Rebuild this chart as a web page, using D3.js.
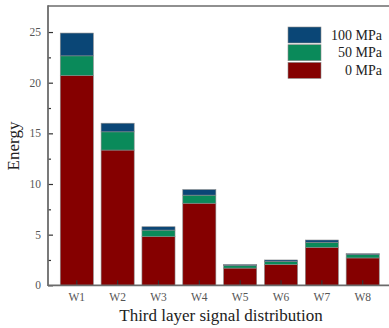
<!DOCTYPE html>
<html>
<head>
<meta charset="utf-8">
<script src="https://cdn.jsdelivr.net/npm/d3@7"></script>
<style>
  body { margin: 0; background: #fff; }
  svg { display: block; font-family: "Liberation Serif", "DejaVu Serif", serif; }
</style>
</head>
<body>
<div id="chart"></div>
<script>
const categories = ['W1', 'W2', 'W3', 'W4', 'W5', 'W6', 'W7', 'W8'];
const seriesNames = ['0 MPa', '50 MPa', '100 MPa'];
const mpa0 = [20.7, 13.35, 4.8, 8.1, 1.7, 2.05, 3.75, 2.7];
const mpa50 = [1.95, 1.8, 0.65, 0.8, 0.25, 0.3, 0.5, 0.32];
const mpa100 = [2.25, 0.85, 0.33, 0.55, 0.1, 0.15, 0.22, 0.1];
const yTicks = [0, 5, 10, 15, 20, 25];
const colors = ['#850000', '#0a8a5a', '#0a4676'];

const width = 389;
const height = 328;
const margin = { top: 6, left: 48, bottom: 42 };

const svg = d3.select('#chart')
  .append('svg')
  .attr('width', width)
  .attr('height', height);

const x = d3.scaleBand()
  .domain(categories)
  .range([margin.left, 391.5])
  .paddingInner(0.19)
  .paddingOuter(0.3);

const y = d3.scaleLinear()
  .domain([0, 27.57])
  .range([height - margin.bottom - 0.7, margin.top]);

const rows = categories.map((c, i) => ({ cat: c, '0 MPa': mpa0[i], '50 MPa': mpa50[i], '100 MPa': mpa100[i] }));
const stacked = d3.stack().keys(seriesNames)(rows);

svg.append('g')
  .selectAll('g')
  .data(stacked)
  .enter()
  .append('g')
  .attr('fill', (d, i) => colors[i])
  .selectAll('rect')
  .data(d => d)
  .enter()
  .append('rect')
  .attr('x', d => x(d.data.cat))
  .attr('y', d => y(d[1]))
  .attr('width', x.bandwidth())
  .attr('height', d => y(d[0]) - y(d[1]))
  .attr('stroke', '#8a8a8a')
  .attr('stroke-width', 0.6);

// frame
const x0 = margin.left;
const yBottom = y(0);
svg.append('line')
  .attr('x1', x0).attr('x2', width + 5)
  .attr('y1', margin.top).attr('y2', margin.top)
  .attr('stroke', '#6b6b6b').attr('stroke-width', 1.6);

// y axis
const yAxis = svg.append('g')
  .attr('transform', `translate(${x0},0)`)
  .call(d3.axisRight(y).tickValues(yTicks).tickSize(5).tickFormat(''));
yAxis.select('.domain').remove();
yAxis.selectAll('line').attr('stroke', '#333').attr('stroke-width', 1.2);

svg.append('g')
  .attr('transform', `translate(${x0},0)`)
  .call(d3.axisRight(y).tickValues(d3.range(2.5, 27.5, 5)).tickSize(3).tickFormat(''))
  .call(g => g.select('.domain').remove())
  .selectAll('line').attr('stroke', '#333').attr('stroke-width', 1.2);

svg.append('g')
  .selectAll('text')
  .data(yTicks)
  .enter()
  .append('text')
  .attr('x', x0 - 7)
  .attr('y', d => y(d) + 4)
  .attr('text-anchor', 'end')
  .attr('font-size', 11.5)
  .attr('fill', '#555')
  .text(d => d);

svg.append('line')
  .attr('x1', x0).attr('x2', x0)
  .attr('y1', margin.top - 0.8).attr('y2', yBottom + 0.8)
  .attr('stroke', '#6b6b6b').attr('stroke-width', 1.8);

// x axis
const xAxis = svg.append('g')
  .attr('transform', `translate(0,${yBottom})`)
  .call(d3.axisTop(x).tickSize(5).tickSizeOuter(0).tickFormat(''));
xAxis.select('.domain').remove();
xAxis.selectAll('line').attr('stroke', '#333').attr('stroke-width', 1.2);

svg.append('line')
  .attr('x1', x0).attr('x2', width + 5)
  .attr('y1', yBottom).attr('y2', yBottom)
  .attr('stroke', '#6b6b6b').attr('stroke-width', 1.8);

svg.append('g')
  .selectAll('text')
  .data(categories)
  .enter()
  .append('text')
  .attr('x', d => x(d) + x.bandwidth() / 2)
  .attr('y', yBottom + 16)
  .attr('text-anchor', 'middle')
  .attr('font-size', 11.5)
  .attr('fill', '#555')
  .text(d => d);

svg.append('text')
  .attr('x', 221)
  .attr('y', 321)
  .attr('text-anchor', 'middle')
  .attr('font-size', 17)
  .attr('fill', '#222')
  .text('Third layer signal distribution');

svg.append('text')
  .attr('transform', `translate(19,146) rotate(-90)`)
  .attr('text-anchor', 'middle')
  .attr('font-size', 17)
  .attr('fill', '#222')
  .text('Energy');

// legend (top to bottom: 100, 50, 0)
const legendItems = seriesNames.map((n, i) => ({ name: n, color: colors[i] })).reverse();
const legend = svg.append('g')
  .selectAll('g')
  .data(legendItems)
  .enter()
  .append('g')
  .attr('transform', (d, i) => `translate(288,${27 + i * 17.7})`);

legend.append('rect')
  .attr('width', 33)
  .attr('height', 16)
  .attr('fill', d => d.color)
  .attr('stroke', '#8a8a8a')
  .attr('stroke-width', 0.6);

legend.append('text')
  .attr('x', 94)
  .attr('y', 12.5)
  .attr('text-anchor', 'end')
  .attr('font-size', 14)
  .attr('fill', '#222')
  .text(d => d.name);
</script>
</body>
</html>
